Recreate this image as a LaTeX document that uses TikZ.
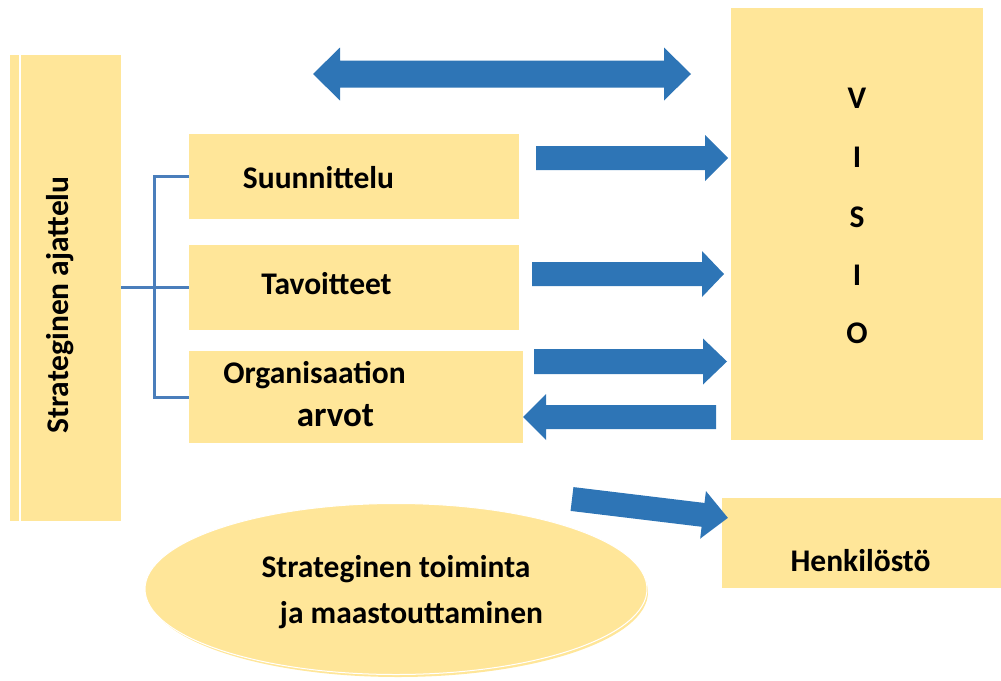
\documentclass[tikz,border=0pt]{standalone}
\usepackage{fontspec}
\setmainfont{Carlito}
\usetikzlibrary{shapes.geometric}
\definecolor{boxyellow}{HTML}{FFE699}
\definecolor{arrowblue}{HTML}{2E75B6}
\definecolor{linkblue}{HTML}{4A7EBB}

% filled block arrow from the origin along +x: length, shaft half, head half, head length
\newcommand\blkarrow[4]{%
  \fill[blockarrow] (0,{-#2}) -- ({#1-#4},{-#2}) -- ({#1-#4},{-#3}) -- (#1,0)
    -- ({#1-#4},{#3}) -- ({#1-#4},{#2}) -- (0,{#2}) -- cycle;}

\tikzset{
  panel/.style={fill=boxyellow, draw=none, inner sep=0pt, anchor=north west},
  lbl/.style={font=\bfseries\fontsize{31.5}{36}\selectfont, inner sep=0pt, anchor=base},
  bracket/.style={draw=linkblue, line width=3pt},
  blockarrow/.style={fill=arrowblue},
}

\begin{document}
\begin{tikzpicture}[x=1pt, y=-1pt]
\useasboundingbox (0,0) rectangle (1001,680);

% panels
\node[panel, minimum width=9pt, minimum height=466pt] (strip) at (10,55) {};
\node[panel, minimum width=100pt, minimum height=466pt] (think) at (21,55) {};
\node[panel, minimum width=330pt, minimum height=85pt] (plan) at (189,134) {};
\node[panel, minimum width=330pt, minimum height=85pt] (goals) at (189,245) {};
\node[panel, minimum width=334pt, minimum height=92pt] (values) at (189,351) {};
\node[panel, minimum width=252pt, minimum height=432pt] (vision) at (731,8) {};
\node[panel, minimum width=279pt, minimum height=90pt] (staff) at (722,498) {};

% ellipse with its rim
\node[ellipse, fill=boxyellow, minimum width=500pt, minimum height=170pt, inner sep=0pt] (rim) at (398,592) {};
\node[ellipse, fill=boxyellow, draw=white, line width=1pt, minimum width=502pt, minimum height=171pt, inner sep=0pt] (action) at (396,589) {};

% texts
\node[lbl, rotate=90] (thinktxt) at (68,305) {Strateginen ajattelu};
\node[lbl] (plantxt) at (318.5,188) {Suunnittelu};
\node[lbl] (goalstxt) at (326.5,294) {Tavoitteet};
\node[lbl] (valtxta) at (314.5,383) {Organisaation};
\node[lbl, font=\bfseries\fontsize{35}{40}\selectfont] (valtxtb) at (335.5,426) {arvot};
\node[lbl] (acttxta) at (396,577) {Strateginen toiminta};
\node[lbl] (acttxtb) at (411.5,623) {ja maastouttaminen};
\node[lbl] (stafftxt) at (860.5,571) {Henkilöstö};
\node[lbl] (v1) at (857,108) {V};
\node[lbl] (v2) at (857,167) {I};
\node[lbl] (v3) at (857,227) {S};
\node[lbl] (v4) at (857,285) {I};
\node[lbl] (v5) at (857,343) {O};

% bracket from the left panel to the three boxes
\draw[bracket] (think.east |- goals.west) -- (goals.west);
\draw[bracket] (plan.west) -- ++(-35,0) |- (values.west);

% double arrow at the top
\fill[blockarrow] (313,74) -- (340,47.5) -- (340,60.5) -- (664,60.5) -- (664,47.5)
  -- (691,74) -- (664,100.5) -- (664,87.5) -- (340,87.5) -- (340,100.5) -- cycle;

% arrows towards the vision
\begin{scope}[shift={(536,158)}] \blkarrow{192}{12}{23}{23} \end{scope}
\begin{scope}[shift={(532,274)}] \blkarrow{192}{12}{23}{22} \end{scope}
\begin{scope}[shift={(534,361.5)}] \blkarrow{193}{12.5}{23}{24} \end{scope}
% arrow back from the vision
\begin{scope}[shift={(716,417)}, rotate=180] \blkarrow{193}{12}{23}{23} \end{scope}
% arrow to the staff box
\begin{scope}[shift={(572,499)}, rotate=-6.9] \blkarrow{157}{12}{24}{25} \end{scope}
\end{tikzpicture}
\end{document}
